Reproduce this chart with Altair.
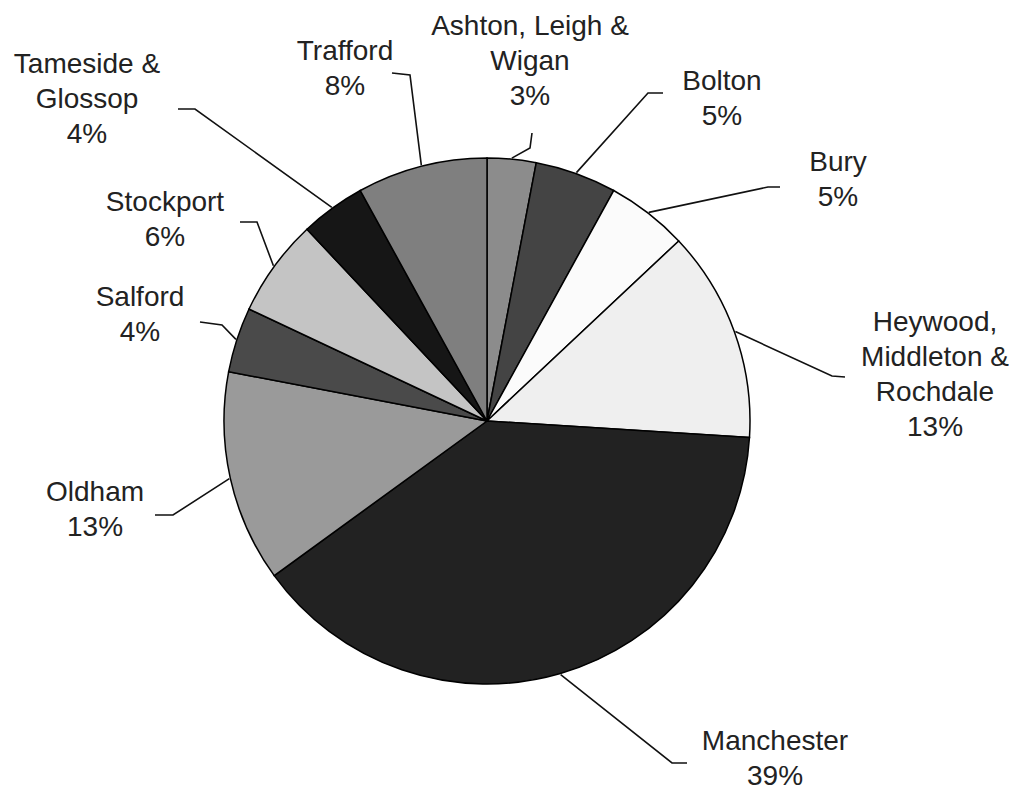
import math
import altair as alt
import pandas as pd

# ---- data ----
categories = ["Ashton, Leigh & Wigan", "Bolton", "Bury", "Heywood, Middleton & Rochdale",
              "Manchester", "Oldham", "Salford", "Stockport", "Tameside & Glossop", "Trafford"]
values = [3, 5, 5, 13, 39, 13, 4, 6, 4, 8]
label_lines = ["Ashton, Leigh &\nWigan", "Bolton", "Bury", "Heywood,\nMiddleton &\nRochdale",
               "Manchester", "Oldham", "Salford", "Stockport", "Tameside &\nGlossop", "Trafford"]
colors = ["#8c8c8c", "#444444", "#fbfbfb", "#efefef", "#222222",
          "#9a9a9a", "#4a4a4a", "#c4c4c4", "#161616", "#7f7f7f"]

# ---- layout (plot coordinates, px; first text line centre) ----
W, H = 1001, 784
CX, CY, R = 479, 413, 263
label_pos = [(522, 19), (714, 74), (830, 155), (927, 315), (767, 734),
             (87, 485), (132, 290), (157, 195), (79, 57), (337, 44)]
elbows = [
    [(522, 140), (524, 125)],
    [(640, 85), (655, 85)],
    [(760, 179), (772, 179)],
    [(824, 368), (837, 369)],
    [(664, 755), (679, 755)],
    [(165, 507), (147, 507)],
    [(214, 317), (192, 314)],
    [(249, 214), (232, 214)],
    [(187, 101), (170, 101)],
    [(402, 67), (384, 65)],
]

total = sum(values)
pie = pd.DataFrame({"category": categories, "value": values, "idx": list(range(len(values))),
                    "cx": CX, "cy": CY})

rows = []
labels = []
cum = 0
for i, (c, v) in enumerate(zip(categories, values)):
    mid = (cum + v / 2) / total * 2 * math.pi
    cum += v
    rx = CX + (R + 1) * math.sin(mid)
    ry = CY - (R + 1) * math.cos(mid)
    pts = [(rx, ry)] + elbows[i]
    for j, (px, py) in enumerate(pts):
        rows.append({"category": c, "pt": j, "x": px, "y": py})
    labels.append({"category": c, "text": f"{label_lines[i]}\n{v}%",
                   "x": label_pos[i][0], "y": label_pos[i][1]})
lines = pd.DataFrame(rows)
labs = pd.DataFrame(labels)
labs["text"] = labs["text"].str.split("\n")

xs = alt.Scale(domain=[0, W], nice=False, zero=False)
ys = alt.Scale(domain=[0, H], nice=False, zero=False, reverse=True)

arc = alt.Chart(pie).mark_arc(outerRadius=R, stroke="#000000", strokeWidth=1.5).encode(
    theta=alt.Theta("value:Q", stack=True),
    order=alt.Order("idx:Q"),
    color=alt.Color("category:N", scale=alt.Scale(domain=categories, range=colors), legend=None),
    x=alt.X("cx:Q", scale=xs, axis=None),
    y=alt.Y("cy:Q", scale=ys, axis=None),
)

leader = alt.Chart(lines).mark_line(color="#111111", strokeWidth=1.6).encode(
    x=alt.X("x:Q", scale=xs, axis=None),
    y=alt.Y("y:Q", scale=ys, axis=None),
    detail="category:N",
    order=alt.Order("pt:Q"),
)

text = alt.Chart(labs).mark_text(font="Liberation Sans", fontSize=28, lineHeight=35,
                                  align="center", baseline="middle", color="#222222").encode(
    x=alt.X("x:Q", scale=xs, axis=None),
    y=alt.Y("y:Q", scale=ys, axis=None),
    text="text",
)

chart = alt.layer(arc, leader, text).properties(
    width=W, height=H, autosize="none", padding=0
).configure_view(stroke=None)

chart.save("out.html", embed_options={"renderer": "svg", "actions": False})
